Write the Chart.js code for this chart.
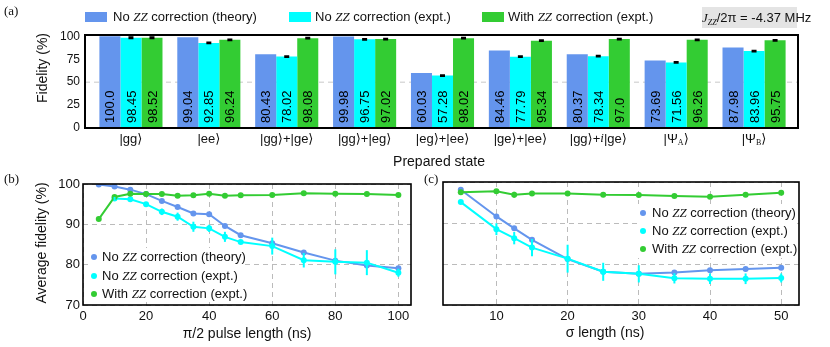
<!DOCTYPE html>
<html>
<head>
<meta charset="utf-8">
<script src="https://cdn.jsdelivr.net/npm/chart.js@4.4.1/dist/chart.umd.min.js"></script>
<style>
  body { margin: 0; background: #fff; }
  #fig { position: relative; width: 830px; height: 347px; overflow: hidden; font-family: "Liberation Sans", Arial, sans-serif; color: #111; }
  #fig canvas { position: absolute; }
  .t { position: absolute; white-space: nowrap; font-size: 14px; line-height: 1; transform: translate(-50%, -50%); }
  .rot { transform: translate(-50%, -50%) rotate(-90deg); }
  .panel { position: absolute; font-family: "Liberation Serif", "Times New Roman", serif; font-size: 13px; line-height: 1; }
  .zz { font-family: "Liberation Serif", serif; font-style: italic; }
  .key { position: absolute; font-size: 13px; line-height: 1; white-space: nowrap; }
  .box { position: absolute; width: 22px; height: 10px; }
  .dot { position: absolute; width: 6px; height: 6px; border-radius: 50%; }
  .leg { position: absolute; background: #fff; }
  #jzz { position: absolute; left: 702px; top: 7px; width: 95px; height: 21px; background: #e4e4e4; font-size: 13px; line-height: 21px; text-align: center; white-space: nowrap; }
  #jzz i { font-family: "Liberation Serif", serif; }
  #jzz sub { font-size: 8px; vertical-align: -3px; line-height: 0; }
</style>
</head>
<body>
<div id="fig">
  <canvas id="chartA" width="830" height="170" style="left:0;top:0"></canvas>
  <canvas id="chartB" width="415" height="182" style="left:0;top:165px"></canvas>
  <canvas id="chartC" width="415" height="182" style="left:415px;top:165px"></canvas>

  <div class="panel" style="left:4px;top:4px">(a)</div>
  <div class="panel" style="left:4px;top:172px">(b)</div>
  <div class="panel" style="left:424px;top:172px">(c)</div>

  <!-- legend (a) -->
  <div class="box" style="left:85px;top:12px;background:#6495ED"></div>
  <div class="key" style="left:113px;top:10px">No <span class="zz">ZZ</span> correction (theory)</div>
  <div class="box" style="left:289px;top:12px;background:#00FFFF"></div>
  <div class="key" style="left:315px;top:10px">No <span class="zz">ZZ</span> correction (expt.)</div>
  <div class="box" style="left:482px;top:12px;background:#33CC33"></div>
  <div class="key" style="left:508px;top:10px">With <span class="zz">ZZ</span> correction (expt.)</div>
  <div id="jzz"><i>J</i><sub><i>ZZ</i></sub>/2π = -4.37 MHz</div>

  <div class="t rot" style="left:42px;top:68px">Fidelity (%)</div>
  <div class="t" style="left:439px;top:161px">Prepared state</div>
  <div class="t rot" style="left:41px;top:243px">Average fidelity (%)</div>
  <div class="t" style="left:247px;top:333px">π/2 pulse length (ns)</div>
  <div class="t" style="left:605px;top:332px">σ length (ns)</div>

  <!-- legend (b) -->
  <div class="leg" style="left:88px;top:248px;width:156px;height:54px"></div>
  <div class="dot" style="left:91px;top:254px;background:#6495ED"></div>
  <div class="key" style="left:102px;top:250px">No <span class="zz">ZZ</span> correction (theory)</div>
  <div class="dot" style="left:91px;top:273px;background:#00FFFF"></div>
  <div class="key" style="left:102px;top:269px">No <span class="zz">ZZ</span> correction (expt.)</div>
  <div class="dot" style="left:91px;top:291px;background:#33CC33"></div>
  <div class="key" style="left:102px;top:287px">With <span class="zz">ZZ</span> correction (expt.)</div>

  <!-- legend (c) -->
  <div class="leg" style="left:637px;top:204px;width:160px;height:54px"></div>
  <div class="dot" style="left:640px;top:210px;background:#6495ED"></div>
  <div class="key" style="left:652px;top:206px">No <span class="zz">ZZ</span> correction (theory)</div>
  <div class="dot" style="left:640px;top:228px;background:#00FFFF"></div>
  <div class="key" style="left:652px;top:224px">No <span class="zz">ZZ</span> correction (expt.)</div>
  <div class="dot" style="left:640px;top:246px;background:#33CC33"></div>
  <div class="key" style="left:652px;top:242px">With <span class="zz">ZZ</span> correction (expt.)</div>
</div>

<script>
// ---- panel (a): fidelity per prepared state
const states = ['|gg⟩', '|ee⟩', '|gg⟩+|ge⟩', '|gg⟩+|eg⟩', '|eg⟩+|ee⟩', '|ge⟩+|ee⟩', '|gg⟩+i|ge⟩', '|Ψ_A⟩', '|Ψ_B⟩'];
const fidTheory = [100.0, 99.04, 80.43, 99.98, 60.03, 84.46, 80.37, 73.69, 87.98];
const fidExpt = [98.45, 92.85, 78.02, 96.75, 57.28, 77.79, 78.34, 71.56, 83.96];
const fidCorr = [98.52, 96.24, 98.08, 97.02, 98.02, 95.34, 97.0, 96.26, 95.75];
const errExpt = [0.5, 0.4, 0.4, 0.4, 0.4, 0.4, 0.4, 0.4, 0.4];
const errCorr = [0.5, 0.4, 0.4, 0.4, 0.4, 0.4, 0.4, 0.4, 0.4];
const fidTicks = [0, 25, 50, 75, 100];

// ---- panel (b): vs pi/2 pulse length
const pulseLen = [5, 10, 15, 20, 25, 30, 35, 40, 45, 50, 60, 70, 80, 90, 100];
const pulseTheory = [99.9, 99.4, 98.6, 97.5, 95.8, 94.3, 92.7, 92.5, 89.6, 87.3, 85.3, 83.0, 81.0, 79.8, 79.1];
const pulseLenExpt = [10, 15, 20, 25, 30, 35, 40, 45, 50, 60, 70, 80, 90, 100];
const pulseExpt = [96.4, 96.2, 95.0, 93.1, 91.9, 89.4, 89.0, 86.9, 85.6, 84.6, 81.1, 80.7, 80.5, 78.0];
const pulseExptErr = [0.4, 0.4, 0.5, 0.8, 1.0, 1.25, 0.9, 1.25, 0.5, 2.1, 1.8, 3.1, 3.1, 1.0];
const pulseCorr = [91.3, 96.8, 97.6, 97.5, 97.5, 97.1, 97.2, 97.6, 97.1, 97.2, 97.3, 97.7, 97.6, 97.5, 97.3];
const pulseTicks = [0, 20, 40, 60, 80, 100];

// ---- panel (c): vs sigma length
const sigmaLen = [5, 10, 12.5, 15, 20, 25, 30, 35, 40, 45, 50];
const sigmaTheory = [98.1, 91.6, 88.7, 85.9, 81.2, 78.1, 77.6, 77.9, 78.5, 78.8, 79.1];
const sigmaExpt = [95.1, 88.5, 86.3, 84.0, 81.3, 78.1, 77.6, 76.5, 76.4, 76.4, 76.6];
const sigmaExptErr = [0.3, 1.45, 1.5, 2.1, 3.4, 2.2, 2.1, 1.25, 1.3, 1.3, 1.1];
const sigmaCorr = [97.5, 97.75, 96.9, 97.2, 97.2, 96.9, 96.8, 96.6, 96.4, 96.9, 97.4];
const sigmaCorrErr = [0, 0, 0.7, 0, 0, 0, 0, 0, 0, 0, 0];
const sigmaTicks = [10, 20, 30, 40, 50];
const avgTicks = [70, 80, 90, 100];

const BLUE = '#6495ED', CYAN = '#00FFFF', GREEN = '#33CC33';
const SANS = '"Liberation Sans", Arial, sans-serif';

Chart.defaults.font.family = SANS;
Chart.defaults.color = '#111';

const pts = (xs, ys) => xs.map((x, i) => ({x: x, y: ys[i]}));

// thick frame round the plot, optional dashed line (panel a)
const frame = {
  id: 'frame',
  beforeDatasetsDraw(chart, args, o) {
    if (o.dashAt === undefined) return;
    const ctx = chart.ctx, a = chart.chartArea;
    const y = chart.scales.y.getPixelForValue(o.dashAt);
    ctx.save();
    ctx.strokeStyle = '#c8c8c8';
    ctx.lineWidth = 1;
    ctx.setLineDash([5, 4]);
    ctx.beginPath();
    ctx.moveTo(a.left - (o.padL || 0), y);
    ctx.lineTo(a.right + (o.padR || 0), y);
    ctx.stroke();
    ctx.restore();
  },
  afterDraw(chart, args, o) {
    const ctx = chart.ctx, a = chart.chartArea;
    const l = a.left - (o.padL || 0), r = a.right + (o.padR || 0);
    ctx.save();
    ctx.strokeStyle = '#000';
    ctx.lineWidth = o.width || 2;
    ctx.strokeRect(l, a.top, r - l, a.bottom - a.top);
    ctx.restore();
  }
};

// error bars from dataset.errors
const errBars = {
  id: 'errBars',
  afterDatasetsDraw(chart, args, o) {
    const ctx = chart.ctx, ys = chart.scales.y;
    chart.data.datasets.forEach((ds, i) => {
      if (!ds.errors) return;
      const meta = chart.getDatasetMeta(i);
      ctx.save();
      ctx.strokeStyle = o.color || ds.borderColor;
      ctx.lineWidth = 2;
      meta.data.forEach((el, j) => {
        const e = ds.errors[j];
        if (!e) return;
        const raw = ds.data[j];
        const v = typeof raw === 'object' ? raw.y : raw;
        const y1 = ys.getPixelForValue(v + e), y2 = ys.getPixelForValue(v - e);
        ctx.beginPath();
        ctx.moveTo(el.x, y1);
        ctx.lineTo(el.x, y2);
        if (o.cap) {
          ctx.moveTo(el.x - o.cap, y1); ctx.lineTo(el.x + o.cap, y1);
          ctx.moveTo(el.x - o.cap, y2); ctx.lineTo(el.x + o.cap, y2);
        }
        ctx.stroke();
      });
      ctx.restore();
    });
  }
};

// vertical value text inside each bar
const barText = {
  id: 'barText',
  afterDatasetsDraw(chart) {
    const ctx = chart.ctx, bottom = chart.chartArea.bottom;
    ctx.save();
    ctx.font = '13px ' + SANS;
    ctx.fillStyle = '#000';
    ctx.textBaseline = 'middle';
    ctx.textAlign = 'left';
    chart.data.datasets.forEach((ds, i) => {
      chart.getDatasetMeta(i).data.forEach((bar, j) => {
        const v = ds.data[j];
        const s = Number.isInteger(v) ? v.toFixed(1) : String(v);
        ctx.save();
        ctx.translate(bar.x, bottom - 5);
        ctx.rotate(-Math.PI / 2);
        ctx.fillText(s, 0, 1);
        ctx.restore();
      });
    });
    ctx.restore();
  }
};

// category labels with subscripts / italic i
const stateLabels = {
  id: 'stateLabels',
  afterDraw(chart) {
    const ctx = chart.ctx, xs = chart.scales.x, y = chart.chartArea.bottom + 11;
    ctx.save();
    ctx.fillStyle = '#111';
    ctx.textBaseline = 'middle';
    ctx.textAlign = 'left';
    states.forEach((lab, i) => {
      const parts = lab.split(/(_[A-Z]|(?<=\+)i(?=\|))/).filter(Boolean).map(p =>
        p[0] === '_' ? {t: p.slice(1), f: '8px "Liberation Serif", serif', dy: 4}
        : p === 'i' ? {t: 'i', f: 'italic 13px "Liberation Serif", serif', dy: 0}
        : {t: p, f: '13px "Liberation Sans", "DejaVu Sans", sans-serif', dy: 0});
      let w = 0;
      parts.forEach(p => { ctx.font = p.f; p.w = ctx.measureText(p.t).width; w += p.w; });
      let x = xs.getPixelForValue(i) - w / 2;
      parts.forEach(p => { ctx.font = p.f; ctx.fillText(p.t, x, y + p.dy); x += p.w; });
    });
    ctx.restore();
  }
};

new Chart(document.getElementById('chartA'), {
  type: 'bar',
  data: {
    labels: states,
    datasets: [
      {label: 'No ZZ correction (theory)', data: fidTheory, backgroundColor: BLUE},
      {label: 'No ZZ correction (expt.)', data: fidExpt, backgroundColor: CYAN, errors: errExpt},
      {label: 'With ZZ correction (expt.)', data: fidCorr, backgroundColor: GREEN, errors: errCorr}
    ]
  },
  plugins: [frame, barText, errBars, stateLabels],
  options: {
    responsive: false,
    animation: false,
    devicePixelRatio: 1,
    datasets: {bar: {categoryPercentage: 0.81, barPercentage: 1, borderWidth: 0}},
    layout: {padding: {top: 35, right: 37, left: 0, bottom: 0}},
    plugins: {
      legend: {display: false},
      tooltip: {enabled: false},
      frame: {padL: 7, padR: 5, width: 2, dashAt: 50},
      errBars: {color: '#000', cap: 2.5}
    },
    scales: {
      x: {
        ticks: {display: false},
        grid: {display: false},
        border: {display: false},
        afterFit: s => { s.height = 42; }
      },
      y: {
        min: 0, max: 101.5,
        afterBuildTicks: s => { s.ticks = fidTicks.map(v => ({value: v})); },
        ticks: {font: {size: 12}, padding: 12},
        grid: {display: false, drawTicks: false},
        border: {display: false},
        afterFit: s => { s.width = 92; }
      }
    }
  }
});

function lineOptions(xMin, xMax, xTicks, yWidth, showY, pad) {
  return {
    responsive: false,
    animation: false,
    devicePixelRatio: 1,
    layout: {padding: pad},
    plugins: {
      legend: {display: false},
      tooltip: {enabled: false},
      frame: {width: 1.6},
      errBars: {}
    },
    scales: {
      x: {
        type: 'linear', min: xMin, max: xMax,
        afterBuildTicks: s => { s.ticks = xTicks.map(v => ({value: v})); },
        ticks: {font: {size: 13}, padding: 4},
        grid: {color: '#bbb', drawTicks: false},
        border: {display: false, dash: [5, 4]},
        afterFit: s => { s.height = 42; }
      },
      y: {
        min: 70, max: 100,
        afterBuildTicks: s => { s.ticks = avgTicks.map(v => ({value: v})); },
        ticks: {display: showY, font: {size: 13}, padding: 3},
        grid: {color: '#bbb', drawTicks: false},
        border: {display: false, dash: [5, 4]},
        afterFit: s => { s.width = yWidth; }
      }
    }
  };
}

const lineSet = (label, data, color, errors) => ({
  label: label, data: data, borderColor: color, backgroundColor: color,
  borderWidth: 2, pointRadius: 3, pointBorderWidth: 0, errors: errors
});

new Chart(document.getElementById('chartB'), {
  type: 'line',
  data: {
    datasets: [
      lineSet('With ZZ correction (expt.)', pts(pulseLen, pulseCorr), GREEN),
      lineSet('No ZZ correction (expt.)', pts(pulseLenExpt, pulseExpt), CYAN, pulseExptErr),
      lineSet('No ZZ correction (theory)', pts(pulseLen, pulseTheory), BLUE)
    ]
  },
  plugins: [frame, errBars],
  options: lineOptions(0, 104, pulseTicks, 83, true, {top: 19, right: 3, left: 0, bottom: 0})
});

new Chart(document.getElementById('chartC'), {
  type: 'line',
  data: {
    datasets: [
      lineSet('With ZZ correction (expt.)', pts(sigmaLen, sigmaCorr), GREEN, sigmaCorrErr),
      lineSet('No ZZ correction (expt.)', pts(sigmaLen, sigmaExpt), CYAN, sigmaExptErr),
      lineSet('No ZZ correction (theory)', pts(sigmaLen, sigmaTheory), BLUE)
    ]
  },
  plugins: [frame, errBars],
  options: lineOptions(2.5, 52.5, sigmaTicks, 28, false, {top: 17, right: 31, left: 0, bottom: 0})
});
</script>
</body>
</html>
